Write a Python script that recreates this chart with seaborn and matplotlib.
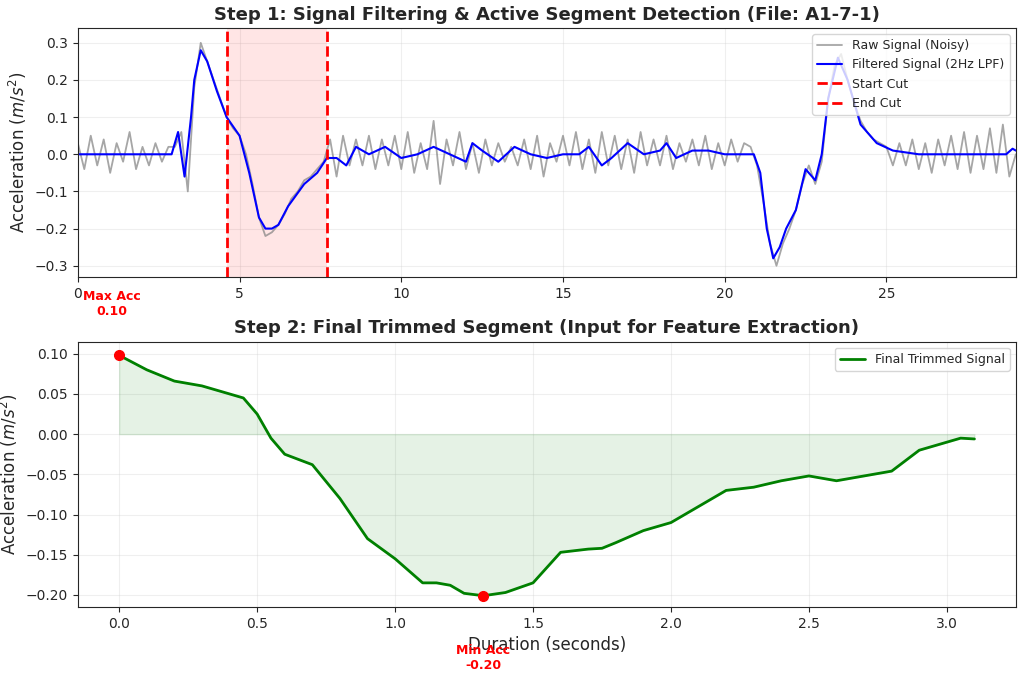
import numpy as np
import pandas as pd
import matplotlib
matplotlib.use("Agg")
import matplotlib.pyplot as plt
import seaborn as sns

# filtered signal (2Hz LPF)
filt_t = [0, 0.5, 1, 1.5, 2, 2.5, 2.9, 3.1, 3.3, 3.5, 3.6, 3.8, 4.0, 4.3, 4.6, 5.0, 5.3, 5.6, 5.8,
          6.0, 6.2, 6.5, 7.0, 7.4, 7.7, 8.0, 8.3, 8.6, 9.0, 9.5, 10.0, 10.5, 11.0, 11.5, 12.0,
          12.2, 12.5, 13.0, 13.5, 14.0, 14.5, 15.0, 15.5, 15.8, 16.2, 16.5, 17.0, 17.5, 18.0,
          18.2, 18.5, 19.0, 19.5, 20.0, 20.5, 20.9, 21.1, 21.3, 21.5, 21.7, 21.9, 22.2, 22.5,
          22.8, 23.0, 23.2, 23.5, 23.8, 24.2, 24.7, 25.2, 26.0, 27.0, 28.0, 28.7, 28.9, 29.0]
filt_v = [0.0, 0.0, 0.0, 0.0, 0.0, 0.0, 0.0, 0.06, -0.06, 0.1, 0.2, 0.28, 0.25, 0.17, 0.1, 0.05,
          -0.05, -0.17, -0.2, -0.2, -0.19, -0.14, -0.08, -0.05, -0.01, -0.01, -0.03, 0.02, 0.0,
          0.02, -0.01, 0.0, 0.02, 0.0, -0.02, 0.03, 0.01, -0.02, 0.02, 0.0, -0.01, 0.0, 0.0,
          0.02, -0.03, -0.01, 0.03, 0.0, 0.01, 0.03, -0.01, 0.01, 0.01, 0.0, 0.0, 0.0, -0.05,
          -0.2, -0.28, -0.25, -0.2, -0.15, -0.04, -0.07, 0.0, 0.15, 0.26, 0.2, 0.08, 0.03, 0.01,
          0.0, 0.0, 0.0, 0.0, 0.015, 0.01]

# raw noisy signal, every 0.2 s from 0 to 29
raw_v = (
    # 0.0 - 2.8
    [0.03, -0.04, 0.05, -0.03, 0.04, -0.05, 0.03, -0.02, 0.06, -0.04, 0.02, -0.03, 0.03, -0.02, 0.02]
    # 3.0 - 7.6
    + [0.02, 0.06, -0.1, 0.18, 0.3, 0.25, 0.2, 0.15, 0.1, 0.07, 0.05, 0.0, -0.08, -0.17, -0.22,
       -0.21, -0.19, -0.16, -0.12, -0.1, -0.07, -0.06, -0.04, -0.02]
    # 7.8 - 20.6
    + [0.04, -0.06, 0.05, -0.03, 0.04, -0.03, 0.05, -0.04, 0.04, -0.03, 0.05, -0.04, 0.06, -0.05,
       0.03, -0.04, 0.09, -0.08, 0.04, -0.03, 0.06, -0.04, 0.03, -0.05, 0.04, -0.03, 0.03, -0.02,
       0.02, -0.03, 0.04, -0.04, 0.05, -0.06, 0.03, -0.02, 0.05, -0.03, 0.06, -0.04, 0.04, -0.05,
       0.06, -0.03, 0.05, -0.04, 0.04, -0.05, 0.06, -0.03, 0.04, -0.03, 0.05, -0.04, 0.03, -0.02,
       0.04, -0.03, 0.05, -0.04, 0.03, -0.03, 0.04, -0.02, 0.03]
    # 20.8 - 24.8
    + [0.02, -0.03, -0.13, -0.24, -0.3, -0.24, -0.2, -0.15, -0.08, -0.03, -0.08, -0.02, 0.15,
       0.24, 0.27, 0.2, 0.14, 0.09, 0.06, 0.04, 0.03]
    # 25.0 - 29.0
    + [0.02, -0.03, 0.03, -0.03, 0.04, -0.04, 0.03, -0.05, 0.04, -0.03, 0.05, -0.04, 0.06, -0.05,
       0.05, -0.04, 0.07, -0.05, 0.08, -0.06, 0.0]
)
raw_t = [round(0.2 * i, 1) for i in range(len(raw_v))]

start_cut = 4.6
end_cut = 7.7

# trimmed segment
seg_t = [0.0, 0.1, 0.2, 0.3, 0.4, 0.45, 0.5, 0.55, 0.6, 0.7, 0.8, 0.9, 1.0, 1.05, 1.1, 1.15, 1.2,
         1.25, 1.32, 1.4, 1.5, 1.6, 1.7, 1.75, 1.8, 1.9, 2.0, 2.1, 2.2, 2.3, 2.4, 2.5, 2.6, 2.7,
         2.8, 2.9, 3.0, 3.05, 3.1]
seg_v = [0.098, 0.08, 0.066, 0.06, 0.05, 0.045, 0.025, -0.005, -0.025, -0.038, -0.08, -0.13,
         -0.155, -0.17, -0.185, -0.185, -0.188, -0.198, -0.201, -0.197, -0.185, -0.147, -0.143,
         -0.142, -0.135, -0.12, -0.11, -0.09, -0.07, -0.066, -0.058, -0.052, -0.058, -0.052,
         -0.046, -0.02, -0.01, -0.005, -0.006]

sns.set_style("ticks")
plt.rcParams["font.family"] = ["DejaVu Sans"]

fig = plt.figure(figsize=(10.24, 6.82), dpi=100)
ax1 = fig.add_axes([0.076, 0.594, 0.916, 0.365])
ax2 = fig.add_axes([0.076, 0.110, 0.916, 0.389])

sns.lineplot(x=raw_t, y=raw_v, ax=ax1, color="gray", alpha=0.7, lw=1.3, label="Raw Signal (Noisy)")
sns.lineplot(x=filt_t, y=filt_v, ax=ax1, color="blue", lw=1.5, label="Filtered Signal (2Hz LPF)")
ax1.axvline(start_cut, color="red", ls="--", lw=2, label="Start Cut")
ax1.axvline(end_cut, color="red", ls="--", lw=2, label="End Cut")
ax1.axvspan(start_cut, end_cut, color="red", alpha=0.1, lw=0)
ax1.set_xlim(0, 29)
ax1.set_ylim(-0.33, 0.34)
ax1.set_title("Step 1: Signal Filtering & Active Segment Detection (File: A1-7-1)",
              fontsize=13, fontweight="bold")
ax1.set_ylabel("Acceleration ($m/s^2$)", fontsize=12)
ax1.grid(True, alpha=0.3)
ax1.legend(loc="upper right", fontsize=9)

sns.lineplot(x=seg_t, y=seg_v, ax=ax2, color="green", lw=2, label="Final Trimmed Signal")
ax2.fill_between(seg_t, seg_v, 0, color="green", alpha=0.1)
i_max = int(np.argmax(seg_v))
i_min = int(np.argmin(seg_v))
ax2.plot(seg_t[i_max], seg_v[i_max], "o", color="red", ms=7)
ax2.plot(seg_t[i_min], seg_v[i_min], "o", color="red", ms=7)
ax2.annotate(f"Max Acc\n{seg_v[i_max]:.2f}", (seg_t[i_max], seg_v[i_max]), xytext=(-5, 27),
             textcoords="offset points", ha="center", va="bottom", color="red",
             fontweight="bold", fontsize=9, annotation_clip=False)
ax2.annotate(f"Min Acc\n{seg_v[i_min]:.2f}", (seg_t[i_min], seg_v[i_min]), xytext=(0, -35),
             textcoords="offset points", ha="center", va="top", color="red",
             fontweight="bold", fontsize=9, annotation_clip=False)
ax2.set_xlim(-0.15, 3.25)
ax2.set_ylim(-0.215, 0.115)
ax2.set_title("Step 2: Final Trimmed Segment (Input for Feature Extraction)",
              fontsize=13, fontweight="bold")
ax2.set_xlabel("Duration (seconds)", fontsize=12)
ax2.set_ylabel("Acceleration ($m/s^2$)", fontsize=12)
ax2.grid(True, alpha=0.3)
ax2.legend(loc="upper right", fontsize=9)

fig.savefig("out.png", dpi=100)
